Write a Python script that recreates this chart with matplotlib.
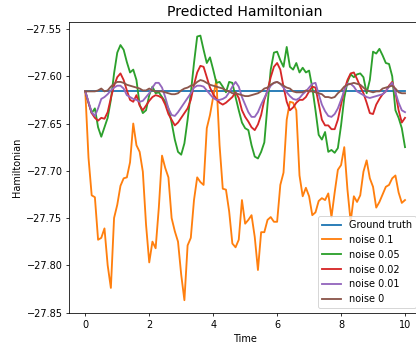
import matplotlib
matplotlib.use("Agg")
import matplotlib.pyplot as plt
import numpy as np

# time grid, 0.1 steps from 0 to 10
time = np.round(np.arange(0, 101) * 0.1, 1)

ground_truth_value = -27.6157

noise_01 = [
    -27.616, -27.686, -27.726, -27.728, -27.773, -27.771, -27.761, -27.800, -27.824, -27.750,
    -27.736, -27.716, -27.708, -27.707, -27.691, -27.650, -27.673, -27.680, -27.701, -27.757,
    -27.797, -27.775, -27.782, -27.739, -27.684, -27.697, -27.707, -27.750, -27.764, -27.775,
    -27.810, -27.837, -27.779, -27.771, -27.731, -27.707, -27.712, -27.715, -27.655, -27.641,
    -27.622, -27.604, -27.673, -27.719, -27.720, -27.743, -27.777, -27.781, -27.773, -27.731,
    -27.756, -27.752, -27.747, -27.770, -27.805, -27.765, -27.765, -27.752, -27.749, -27.754,
    -27.754, -27.715, -27.702, -27.646, -27.627, -27.628, -27.636, -27.705, -27.727, -27.718,
    -27.727, -27.747, -27.744, -27.732, -27.729, -27.731, -27.724, -27.749, -27.723, -27.699,
    -27.694, -27.675, -27.720, -27.754, -27.727, -27.733, -27.726, -27.701, -27.689, -27.708,
    -27.717, -27.739, -27.733, -27.725, -27.717, -27.715, -27.708, -27.705, -27.723, -27.734,
    -27.731,
]

noise_005 = [
    -27.616, -27.628, -27.639, -27.634, -27.654, -27.664, -27.654, -27.644, -27.625, -27.597,
    -27.575, -27.567, -27.572, -27.585, -27.596, -27.593, -27.604, -27.630, -27.639, -27.636,
    -27.620, -27.611, -27.618, -27.617, -27.622, -27.627, -27.634, -27.649, -27.667, -27.680,
    -27.683, -27.671, -27.646, -27.618, -27.586, -27.558, -27.557, -27.572, -27.586, -27.580,
    -27.593, -27.607, -27.606, -27.611, -27.617, -27.606, -27.607, -27.622, -27.636, -27.649,
    -27.655, -27.657, -27.673, -27.685, -27.687, -27.680, -27.670, -27.630, -27.593, -27.575,
    -27.574, -27.583, -27.590, -27.569, -27.590, -27.593, -27.586, -27.596, -27.591, -27.596,
    -27.594, -27.612, -27.636, -27.662, -27.667, -27.659, -27.680, -27.678, -27.681, -27.676,
    -27.652, -27.623, -27.606, -27.598, -27.601, -27.598, -27.597, -27.601, -27.618, -27.604,
    -27.574, -27.576, -27.571, -27.578, -27.586, -27.587, -27.600, -27.636, -27.644, -27.655,
    -27.675,
]

noise_002 = [
    -27.616, -27.628, -27.639, -27.644, -27.647, -27.644, -27.645, -27.638, -27.623, -27.610,
    -27.601, -27.597, -27.604, -27.615, -27.625, -27.627, -27.620, -27.631, -27.636, -27.631,
    -27.626, -27.622, -27.620, -27.621, -27.623, -27.630, -27.640, -27.646, -27.652, -27.649,
    -27.644, -27.639, -27.634, -27.625, -27.609, -27.596, -27.589, -27.590, -27.601, -27.612,
    -27.619, -27.624, -27.628, -27.630, -27.628, -27.625, -27.622, -27.617, -27.623, -27.636,
    -27.643, -27.648, -27.654, -27.657, -27.651, -27.641, -27.625, -27.615, -27.601, -27.590,
    -27.586, -27.593, -27.611, -27.627, -27.636, -27.633, -27.628, -27.625, -27.625, -27.622,
    -27.616, -27.611, -27.612, -27.629, -27.646, -27.652, -27.652, -27.656, -27.656, -27.646,
    -27.630, -27.615, -27.604, -27.597, -27.596, -27.603, -27.611, -27.618, -27.628, -27.639,
    -27.640, -27.630, -27.624, -27.619, -27.616, -27.610, -27.606, -27.617, -27.636, -27.649,
    -27.644,
]

noise_001 = [
    -27.616, -27.627, -27.638, -27.642, -27.634, -27.624, -27.622, -27.619, -27.615, -27.612,
    -27.610, -27.610, -27.613, -27.620, -27.622, -27.624, -27.625, -27.627, -27.626, -27.622,
    -27.618, -27.612, -27.607, -27.607, -27.612, -27.622, -27.634, -27.641, -27.642, -27.638,
    -27.633, -27.628, -27.623, -27.618, -27.612, -27.610, -27.610, -27.611, -27.615, -27.619,
    -27.623, -27.625, -27.625, -27.624, -27.622, -27.617, -27.611, -27.606, -27.611, -27.622,
    -27.630, -27.638, -27.643, -27.643, -27.638, -27.630, -27.623, -27.616, -27.610, -27.607,
    -27.606, -27.608, -27.612, -27.617, -27.621, -27.624, -27.625, -27.623, -27.619, -27.616,
    -27.612, -27.608, -27.607, -27.619, -27.630, -27.637, -27.642, -27.643, -27.640, -27.634,
    -27.625, -27.615, -27.608, -27.608, -27.611, -27.616, -27.618, -27.620, -27.622, -27.623,
    -27.622, -27.621, -27.620, -27.619, -27.616, -27.611, -27.607, -27.617, -27.628, -27.636,
    -27.638,
]

noise_0 = [
    -27.616, -27.616, -27.616, -27.616, -27.615, -27.613, -27.616, -27.615, -27.611, -27.608,
    -27.606, -27.606, -27.607, -27.609, -27.610, -27.611, -27.612, -27.613, -27.615, -27.615,
    -27.613, -27.615, -27.616, -27.616, -27.616, -27.617, -27.618, -27.619, -27.619, -27.618,
    -27.615, -27.613, -27.612, -27.610, -27.609, -27.606, -27.604, -27.605, -27.607, -27.609,
    -27.610, -27.611, -27.612, -27.613, -27.615, -27.616, -27.618, -27.618, -27.619, -27.620,
    -27.621, -27.621, -27.620, -27.619, -27.618, -27.616, -27.613, -27.612, -27.609, -27.607,
    -27.606, -27.608, -27.610, -27.612, -27.613, -27.616, -27.617, -27.617, -27.617, -27.615,
    -27.616, -27.616, -27.617, -27.618, -27.619, -27.622, -27.622, -27.623, -27.622, -27.618,
    -27.615, -27.611, -27.609, -27.608, -27.607, -27.608, -27.609, -27.612, -27.615, -27.616,
    -27.617, -27.616, -27.616, -27.613, -27.612, -27.611, -27.610, -27.613, -27.617, -27.618,
    -27.618,
]

# the original looks like a bigger figure shrunk down, so draw at a low dpi
fig = plt.figure(figsize=(416 / 70, 348 / 70), dpi=70)
# axes runs slightly past the right edge, like the clipped original
ax = fig.add_axes([0.1666, 0.1006, 0.8454, 0.837])

lw = 1.9
ax.plot(time, np.full(len(time), ground_truth_value), lw=lw, label='Ground truth')
ax.plot(time, noise_01, lw=lw, label='noise 0.1')
ax.plot(time, noise_005, lw=lw, label='noise 0.05')
ax.plot(time, noise_002, lw=lw, label='noise 0.02')
ax.plot(time, noise_001, lw=lw, label='noise 0.01')
ax.plot(time, noise_0, lw=lw, label='noise 0')

ax.set_xlim(-0.5, 10.5)
ax.set_ylim(-27.8505, -27.5423)
ax.set_xticks([0, 2, 4, 6, 8, 10])
ax.set_title('Predicted Hamiltonian', fontsize=14.4)
ax.set_xlabel('Time')
ax.set_ylabel('Hamiltonian')
ax.legend(loc='lower right')

fig.savefig('out.png', dpi=70)
